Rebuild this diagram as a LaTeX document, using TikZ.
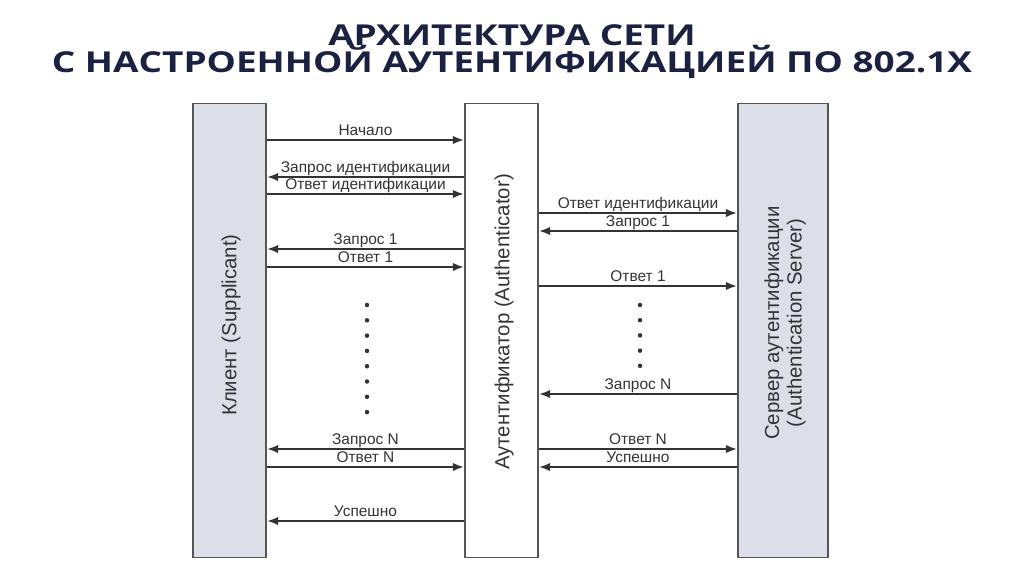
\documentclass[tikz,border=0pt]{standalone}
\usepackage{fontspec}
\setmainfont{Liberation Sans}
\newfontfamily\titlefont{Open Sans}
\usetikzlibrary{arrows.meta}
\definecolor{barfill}{HTML}{DCDFE7}
\definecolor{barline}{HTML}{555555}
\definecolor{msgline}{HTML}{333333}
\definecolor{titleblue}{HTML}{1B2140}

\begin{document}
\begin{tikzpicture}[x=0.025cm,y=-0.025cm,
bar/.style={draw=barline,line width=1.3pt,minimum height=11.35cm,inner sep=0pt},
barlabel/.style={rotate=90,font=\fontsize{14.5}{16}\selectfont,text=msgline,align=center},
msg/.style={-{Latex[length=2.8mm,width=2.1mm]},line width=1.4pt,draw=msgline},
lbl/.style={anchor=base,font=\fontsize{11}{12}\selectfont,text=msgline,inner sep=0pt,yshift=3.5pt},
dot/.style={circle,fill=msgline,inner sep=0pt,minimum size=3.2pt},
headline/.style={anchor=base,xscale=1.28,font=\titlefont\bfseries\fontsize{20.5}{24}\selectfont,text=titleblue}]
\useasboundingbox (0,0) rectangle (1024,574);
% title
\node[headline] (title1) at (512,45) {АРХИТЕКТУРА СЕТИ};
\node[headline] (title2) at (512,72) {С НАСТРОЕННОЙ АУТЕНТИФИКАЦИЕЙ ПО 802.1X};
% the three parties
\node[bar,fill=barfill,minimum width=1.825cm] (client) at (229.5,330.5) {};
\node[bar,fill=white,minimum width=1.825cm] (auth) at (501.5,330.5) {};
\node[bar,fill=barfill,minimum width=2.25cm] (server) at (783,330.5) {};
\node[barlabel] (clientname) at (231,325) {Клиент (Supplicant)};
\node[barlabel] (authname) at (504,322) {Аутентификатор (Authenticator)};
\node[barlabel] (servername) at (785,323) {Сервер аутентификации\\(Authentication Server)};
% client <-> authenticator
\draw[msg] (client.east|-0,140) -- (auth.west|-0,140) node[lbl,midway] {Начало};
\draw[msg] (auth.west|-0,177) -- (client.east|-0,177) node[lbl,midway] {Запрос идентификации};
\draw[msg] (client.east|-0,194) -- (auth.west|-0,194) node[lbl,midway] {Ответ идентификации};
\draw[msg] (auth.west|-0,249) -- (client.east|-0,249) node[lbl,midway] {Запрос 1};
\draw[msg] (client.east|-0,267) -- (auth.west|-0,267) node[lbl,midway] {Ответ 1};
\foreach \i in {0,...,7}
  \node[dot] (ldot\i) at (367,305+15.3*\i) {};
\draw[msg] (auth.west|-0,449) -- (client.east|-0,449) node[lbl,midway] {Запрос N};
\draw[msg] (client.east|-0,467) -- (auth.west|-0,467) node[lbl,midway] {Ответ N};
\draw[msg] (auth.west|-0,521) -- (client.east|-0,521) node[lbl,midway] {Успешно};
% authenticator <-> server
\draw[msg] (auth.east|-0,213) -- (server.west|-0,213) node[lbl,midway] {Ответ идентификации};
\draw[msg] (server.west|-0,231) -- (auth.east|-0,231) node[lbl,midway] {Запрос 1};
\draw[msg] (auth.east|-0,286) -- (server.west|-0,286) node[lbl,midway] {Ответ 1};
\foreach \i in {0,...,4}
  \node[dot] (rdot\i) at (640,305+15.2*\i) {};
\draw[msg] (server.west|-0,394) -- (auth.east|-0,394) node[lbl,midway] {Запрос N};
\draw[msg] (auth.east|-0,449) -- (server.west|-0,449) node[lbl,midway] {Ответ N};
\draw[msg] (server.west|-0,467) -- (auth.east|-0,467) node[lbl,midway] {Успешно};
\end{tikzpicture}
\end{document}
